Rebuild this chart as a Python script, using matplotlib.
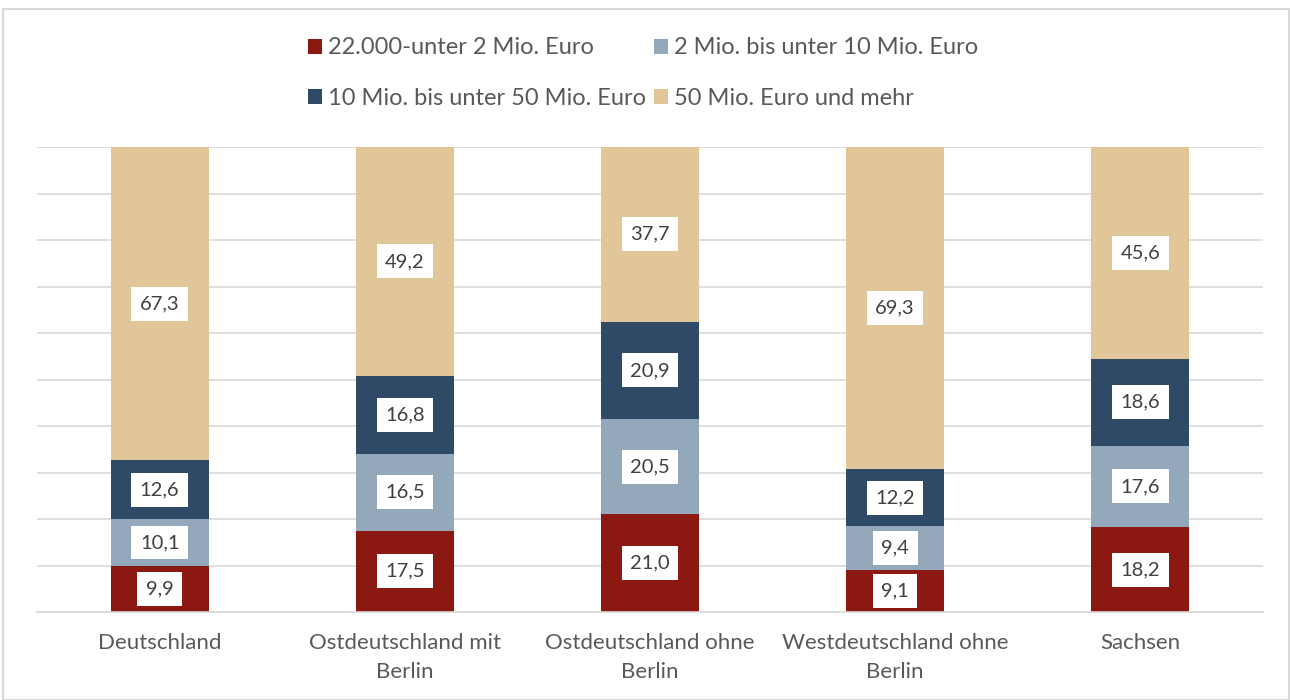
import matplotlib.pyplot as plt
from matplotlib.patches import Rectangle
import numpy as np

plt.rcParams['font.family'] = ['Lato', 'DejaVu Sans']

regions = ['Deutschland', 'Ostdeutschland mit\nBerlin', 'Ostdeutschland ohne\nBerlin',
           'Westdeutschland ohne\nBerlin', 'Sachsen']
series_names = ['22.000-unter 2 Mio. Euro', '2 Mio. bis unter 10 Mio. Euro',
                '10 Mio. bis unter 50 Mio. Euro', '50 Mio. Euro und mehr']
small = [9.9, 17.5, 21.0, 9.1, 18.2]
mid_low = [10.1, 16.5, 20.5, 9.4, 17.6]
mid_high = [12.6, 16.8, 20.9, 12.2, 18.6]
large = [67.3, 49.2, 37.7, 69.3, 45.6]
colors = ['#8B1912', '#94A8BC', '#2E4A66', '#E0C699']

fig = plt.figure(figsize=(12.9, 7), dpi=100)
ax = fig.add_axes([0.0287, 0.1257, 0.9503, 0.6643])

# outer chart frame
fig.patches.append(Rectangle((3 / 1290, 0), 1 - 3 / 1290 - 0.001, 1 - 9 / 700,
                             transform=fig.transFigure, fill=False,
                             edgecolor='#D9D9D9', linewidth=1.5))

x = np.arange(len(regions))
bottom = np.zeros(len(regions))
handles = []
for vals, name, col in zip([small, mid_low, mid_high, large], series_names, colors):
    vals = np.array(vals)
    bars = ax.bar(x, vals, width=0.4, bottom=bottom, color=col, label=name, zorder=2)
    handles.append(bars)
    for xi, b, v in zip(x, bottom, vals):
        ax.text(xi, b + v / 2, f'{v:.1f}'.replace('.', ','), ha='center', va='center',
                fontsize=14.5, color='#404040', zorder=3,
                bbox=dict(boxstyle='square,pad=0.42', facecolor='white', edgecolor='none'))
    bottom += vals

ax.set_xlim(-0.5, len(regions) - 0.5)
ax.set_ylim(0, 100)
ax.set_yticks(np.arange(0, 101, 10))
ax.yaxis.grid(True, color='#D9D9D9', linewidth=1.2, zorder=0)
ax.set_axisbelow(True)
ax.set_yticklabels([])
ax.tick_params(axis='y', length=0)
ax.tick_params(axis='x', length=0, pad=15, labelsize=16, labelcolor='#595959')
ax.set_xticks(x)
ax.set_xticklabels(regions, linespacing=1.55)
for s in ['top', 'right', 'left']:
    ax.spines[s].set_visible(False)
ax.spines['bottom'].set_color('#D9D9D9')
ax.spines['bottom'].set_linewidth(1.2)

# row-major legend order as in the original
order = [0, 2, 1, 3]
leg = fig.legend(handles=[handles[i] for i in order], labels=[series_names[i] for i in order],
                 ncol=2, loc='upper center', bbox_to_anchor=(0.4985, 0.977), frameon=False,
                 fontsize=17, labelspacing=1.25, columnspacing=0.35, handlelength=0.6,
                 handleheight=0.6, handletextpad=0.25)
for t in leg.get_texts():
    t.set_color('#595959')

fig.savefig('out.png', dpi=100)
